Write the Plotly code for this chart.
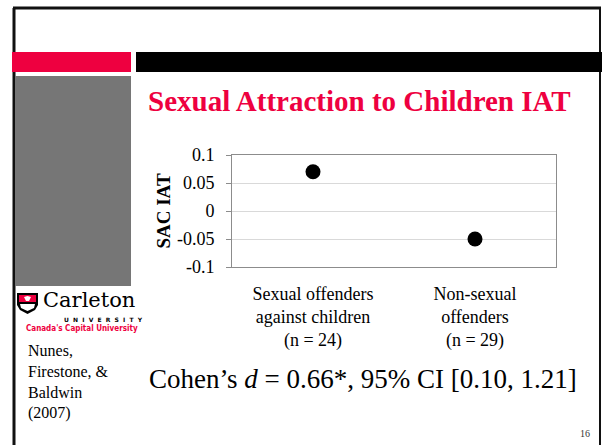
import plotly.graph_objects as go

W, H = 602, 445

# dados
grupos = ["Sexual offenders<br>against children<br>(n = 24)",
          "Non-sexual<br>offenders<br>(n = 29)"]
sac_iat = [0.07, -0.05]
y_ticks = [0.1, 0.05, 0, -0.05, -0.1]
y_tick_labels = ["0.1", "0.05", "0", "-0.05", "-0.1"]

VERMELHO = "#EE0040"
SERIF = "Liberation Serif, Times New Roman, serif"


def px(x):
    return x / W


def py(y):
    return 1 - y / H


def caminho(pontos):
    """Monta path SVG em coordenadas de papel a partir de pixels."""
    partes = []
    for i, (x, y) in enumerate(pontos):
        partes.append(("M" if i == 0 else "L") + f"{px(x):.5f},{py(y):.5f}")
    return " ".join(partes) + " Z"


fig = go.Figure()
fig.add_trace(go.Scatter(
    x=[0, 1], y=sac_iat, mode="markers",
    marker=dict(size=15, color="black"),
    showlegend=False, hoverinfo="skip"
))

# ---- formas do slide ----
shapes = [
    # moldura
    dict(type="line", x0=px(13), x1=px(601), y0=py(8), y1=py(8), line=dict(color="#111", width=3)),
    dict(type="line", x0=px(14), x1=px(14), y0=py(8), y1=py(445), line=dict(color="#111", width=3)),
    dict(type="line", x0=px(600), x1=px(600), y0=py(8), y1=py(445), line=dict(color="#111", width=2)),
    # barras
    dict(type="rect", x0=px(12), x1=px(131), y0=py(72), y1=py(52), fillcolor=VERMELHO, line=dict(width=0)),
    dict(type="rect", x0=px(136), x1=px(602), y0=py(72), y1=py(52), fillcolor="black", line=dict(width=0)),
    dict(type="rect", x0=px(15), x1=px(131), y0=py(286), y1=py(76), fillcolor="#767676", line=dict(width=0)),
    # escudo Carleton
    dict(type="path", path=caminho([(17, 293), (38, 293), (38, 305), (35, 310), (27.5, 314), (20, 310), (17, 305)]),
         fillcolor="black", line=dict(width=0)),
    dict(type="path", path=caminho([(19, 295), (36, 295), (36, 302), (19, 302)]),
         fillcolor=VERMELHO, line=dict(width=0)),
    dict(type="path", path=caminho([(24, 297), (27.5, 296), (31, 297), (29, 301), (26, 301)]),
         fillcolor="white", line=dict(width=0)),
    dict(type="path", path=caminho([(20, 304), (35, 304), (34, 308), (27.5, 311), (21, 308)]),
         fillcolor="white", line=dict(width=0)),
]
for s in shapes:
    s.update(xref="paper", yref="paper", layer="below")

universidade = "\u00a0\u00a0".join("UNIVERSITY")

annotations = [
    dict(text="<b>Sexual Attraction to Children IAT</b>", x=px(146), y=py(101),
         xanchor="left", yanchor="middle", font=dict(family=SERIF, size=29, color=VERMELHO)),
    dict(text="Cohen’s <i>d</i> = 0.66*, 95% CI [0.10, 1.21]", x=px(147), y=py(379),
         xanchor="left", yanchor="middle", font=dict(family=SERIF, size=27, color="black")),
    dict(text="Nunes,<br>Firestone, &<br>Baldwin<br>(2007)", x=px(26), y=py(340), align="left",
         xanchor="left", yanchor="top", font=dict(family=SERIF, size=16, color="black")),
    dict(text="Carleton", x=px(41), y=py(300), xanchor="left", yanchor="middle",
         font=dict(family="DejaVu Serif", size=21, color="black")),
    dict(text=f"<b>{universidade}</b>", x=px(103), y=py(319), xanchor="center", yanchor="middle",
         font=dict(family="DejaVu Sans", size=6, color="black")),
    dict(text="<b>Canada's Capital University</b>", x=px(82), y=py(328), xanchor="center", yanchor="middle",
         font=dict(family="DejaVu Sans Condensed, DejaVu Sans", size=8, color=VERMELHO)),
    dict(text="16", x=px(585), y=py(433), xanchor="center", yanchor="middle",
         font=dict(family=SERIF, size=10, color="#333")),
]
for a in annotations:
    a.update(xref="paper", yref="paper", showarrow=False)

fig.update_layout(
    width=W, height=H,
    margin=dict(l=0, r=0, t=0, b=0),
    paper_bgcolor="white", plot_bgcolor="white",
    shapes=shapes, annotations=annotations,
    font=dict(family=SERIF, color="black"),
    xaxis=dict(
        domain=[px(232), px(556)], range=[-0.5, 1.5],
        tickvals=[0, 1], ticktext=grupos, tickfont=dict(size=18),
        showgrid=False, zeroline=False, showline=True, mirror=True,
        linecolor="#8C8C8C", linewidth=1, ticks="", ticklabelstandoff=10,
        automargin=False, fixedrange=True
    ),
    yaxis=dict(
        domain=[py(267), py(155)], range=[-0.1, 0.1],
        tickvals=y_ticks, ticktext=y_tick_labels, tickfont=dict(size=18),
        showgrid=True, gridcolor="#D9D9D9", zeroline=False,
        showline=True, mirror=True, linecolor="#8C8C8C", linewidth=1,
        ticks="outside", ticklen=5, tickcolor="#8C8C8C", ticklabelstandoff=8,
        title=dict(text="<b>SAC IAT</b>", font=dict(size=19), standoff=1),
        automargin=False, fixedrange=True
    ),
)

fig.write_html("out.html", config={"displayModeBar": False},
               post_script="document.body.style.margin='0';")
